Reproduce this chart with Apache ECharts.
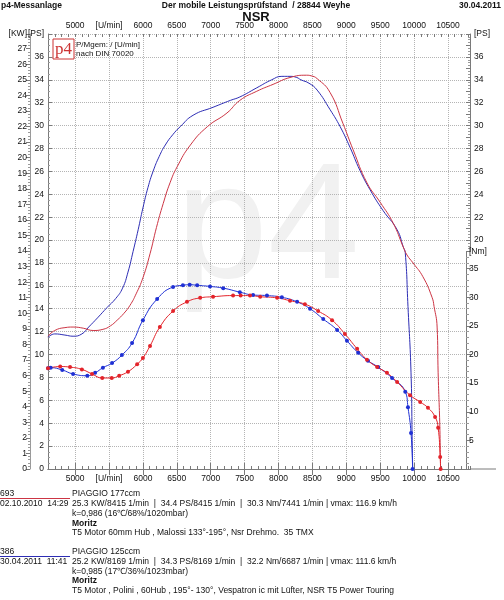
<!DOCTYPE html>
<html>
<head>
    <meta charset="UTF-8">
    <title>NSR Leistungsmessung</title>
    <script src="https://cdn.jsdelivr.net/npm/echarts@6.0.0/dist/echarts.min.js"></script>
    <style>
        html, body {margin: 0; padding: 0; background: #fff;}
        #chart {width: 504px; height: 600px;}
    </style>
</head>
<body>
<div id="chart"></div>
<script>
    // Drehzahl-Achse
    var rpmMin = 4600;
    var rpmMax = 10825;
    var rpmTicks = [5000, 5500, 6000, 6500, 7000, 7500, 8000, 8500, 9000, 9500, 10000, 10500];

    // Messung 386 (PIAGGIO 125ccm, blau) - Leistung in PS
    var rpm386P = [4600, 4700, 4850, 4970, 5100, 5200, 5330, 5470, 5600, 5700, 5780, 5855, 5930, 6000, 6075, 6150, 6240, 6330, 6440, 6550, 6740, 7035, 7290, 7430, 7680, 7900, 8050, 8170, 8270, 8330, 8450, 8570, 8760, 8910, 9055, 9200, 9350, 9540, 9750, 9840, 9870, 9910, 9955, 9972, 9980];
    var ps386 = [11.5, 11.8, 11.7, 11.6, 11.8, 12.4, 13.2, 14.1, 14.9, 15.8, 17.2, 19.0, 20.9, 22.8, 24.6, 26.0, 27.3, 28.3, 29.2, 29.9, 30.9, 31.6, 32.2, 32.5, 33.3, 34.0, 34.3, 34.3, 34.2, 34.0, 33.7, 33.1, 31.4, 29.9, 28.1, 26.1, 24.4, 22.6, 20.9, 19.4, 18.9, 14.2, 8.4, 2.5, 0];

    // Messung 386 - Drehmoment in Nm
    var rpm386M = [4600, 4640, 4810, 4970, 5180, 5295, 5410, 5545, 5690, 5840, 6000, 6210, 6445, 6590, 6690, 6800, 6990, 7185, 7430, 7625, 7830, 8050, 8275, 8465, 8660, 8865, 9010, 9175, 9320, 9470, 9675, 9870, 9910, 9955, 9978];
    var nm386 = [17.6, 17.7, 17.3, 16.6, 16.3, 16.8, 17.7, 18.5, 19.9, 22.0, 26.0, 29.7, 31.8, 32.1, 32.2, 32.1, 31.9, 31.6, 30.9, 30.4, 30.3, 30.0, 29.2, 28.0, 26.2, 24.3, 22.4, 20.3, 18.9, 17.8, 15.9, 13.5, 10.8, 6.3, 0];

    // Messung 693 (PIAGGIO 177ccm, rot) - Leistung in PS
    var rpm693P = [4600, 4700, 4850, 4970, 5120, 5265, 5410, 5520, 5620, 5720, 5810, 5900, 6000, 6105, 6200, 6300, 6400, 6505, 6700, 6950, 7240, 7430, 7680, 7920, 8170, 8415, 8480, 8570, 8760, 8950, 9100, 9305, 9500, 9690, 9840, 9895, 9985, 10130, 10265, 10295, 10340, 10355, 10380, 10390];
    var ps693 = [11.6, 12.1, 12.35, 12.4, 12.3, 12.1, 12.2, 12.5, 13.0, 13.6, 14.3, 15.3, 16.7, 18.8, 21.1, 23.2, 25.0, 26.4, 28.3, 29.9, 31.1, 32.2, 33.0, 33.6, 34.2, 34.4, 34.35, 34.1, 32.9, 30.2, 27.9, 25.0, 23.3, 21.5, 19.4, 18.7, 18.0, 16.8, 15.0, 14.2, 12.4, 8.4, 3.7, 0];

    // Messung 693 - Drehmoment in Nm
    var rpm693M = [4600, 4780, 4925, 5100, 5250, 5400, 5540, 5650, 5780, 5915, 6000, 6105, 6250, 6445, 6650, 6845, 7035, 7330, 7441, 7580, 7730, 7980, 8170, 8390, 8585, 8790, 8980, 9160, 9305, 9455, 9600, 9750, 9940, 10090, 10205, 10310, 10355, 10385, 10392];
    var nm693 = [17.6, 17.9, 17.8, 17.4, 16.6, 15.9, 15.9, 16.3, 17.0, 18.3, 19.4, 21.5, 24.8, 27.6, 29.2, 29.9, 30.1, 30.3, 30.3, 30.3, 30.1, 29.9, 29.4, 28.8, 27.6, 26.0, 23.6, 21.0, 19.1, 17.8, 16.8, 15.2, 12.9, 11.7, 10.7, 9.1, 7.2, 2.1, 0];

    // Achsbereiche
    var psMax = 38;
    var kwMax = 38 / 1.36;
    var nmMax = 38;

    function pairs(xs, ys) {
        var out = [];
        for (var i = 0; i < xs.length; i++) out.push([xs[i], ys[i]]);
        return out;
    }

    var FONT = 'Liberation Sans, Arial, sans-serif';
    var gridLine = {show: true, lineStyle: {color: '#b4b4b4', type: 'dotted', width: 1}};
    var axisCol = '#7a7a7a';

    var chart = echarts.init(document.getElementById('chart'));

    function rpmLabel(v) {
        return v === 5500 ? '[U/min]' : String(v);
    }

    // Textzeile unten / oben
    function txt(s, x, y, opts) {
        opts = opts || {};
        return {
            type: 'text', z: 10,
            style: {
                text: s, x: x, y: y, fill: '#111',
                font: (opts.bold ? 'bold ' : '') + (opts.size || 8.5) + 'px ' + FONT,
                align: opts.align || 'left', textAlign: opts.align || 'left',
                verticalAlign: 'middle', textVerticalAlign: 'middle'
            }
        };
    }

    var G = {left: 48, right: 34, top: 34, bottom: 131};

    var option = {
        backgroundColor: '#fff',
        animation: false,
        grid: [
            {left: G.left, right: G.right, top: G.top, bottom: G.bottom},         // Hauptdiagramm
            {left: G.left, right: G.right, top: 251.5, bottom: G.bottom},        // untere Hälfte Nm
            {left: G.left, right: G.right, top: G.top, height: 217.5}            // obere Hälfte PS rechts
        ],
        xAxis: [
            {
                type: 'value', gridIndex: 0, position: 'bottom', min: rpmMin, max: rpmMax,
                axisLine: {show: true, lineStyle: {color: axisCol}},
                axisTick: {show: true, inside: true, length: 6, customValues: rpmTicks, lineStyle: {color: axisCol}},
                axisLabel: {customValues: rpmTicks, formatter: rpmLabel, color: '#111', fontSize: 8.5, fontFamily: FONT, margin: 5},
                splitLine: gridLine
            },
            {
                type: 'value', gridIndex: 0, position: 'top', min: rpmMin, max: rpmMax,
                axisLine: {show: true, lineStyle: {color: axisCol}},
                axisTick: {show: true, inside: true, length: 6, customValues: rpmTicks, lineStyle: {color: axisCol}},
                axisLabel: {customValues: rpmTicks, formatter: rpmLabel, color: '#111', fontSize: 8.5, fontFamily: FONT, margin: 4},
                splitLine: {show: false}
            },
            // Feinteilung 100 U/min
            {
                type: 'value', gridIndex: 0, position: 'bottom', min: rpmMin, max: rpmMax, interval: 100,
                axisLine: {show: false}, axisLabel: {show: false}, splitLine: {show: false},
                axisTick: {show: true, inside: true, length: 3, lineStyle: {color: axisCol}}
            },
            {
                type: 'value', gridIndex: 0, position: 'top', min: rpmMin, max: rpmMax, interval: 100,
                axisLine: {show: false}, axisLabel: {show: false}, splitLine: {show: false},
                axisTick: {show: true, inside: true, length: 3, lineStyle: {color: axisCol}}
            },
            {type: 'value', gridIndex: 1, min: rpmMin, max: rpmMax, show: false},
            {type: 'value', gridIndex: 2, min: rpmMin, max: rpmMax, show: false}
        ],
        yAxis: [
            {
                // PS links
                type: 'value', gridIndex: 0, position: 'left', min: 0, max: psMax, interval: 2,
                axisLine: {show: true, lineStyle: {color: axisCol}},
                axisTick: {show: true, inside: true, length: 4, lineStyle: {color: axisCol}},
                minorTick: {show: true, splitNumber: 4, length: 2, lineStyle: {color: '#9a9a9a'}},
                axisLabel: {
                    formatter: function (v) { return v === psMax ? '[PS]' : String(v); },
                    color: '#111', fontSize: 8.5, fontFamily: FONT, margin: 4
                },
                splitLine: gridLine
            },
            {
                // KW links aussen
                type: 'value', gridIndex: 0, position: 'left', offset: 18, min: 0, max: kwMax, interval: 1,
                axisLine: {show: true, lineStyle: {color: '#9a9a9a'}},
                axisTick: {show: true, length: 4, lineStyle: {color: axisCol}},
                minorTick: {show: true, splitNumber: 5, length: 2, lineStyle: {color: '#9a9a9a'}},
                axisLabel: {
                    formatter: function (v) { return v > 27.5 ? '[KW]' : String(v); },
                    color: '#111', fontSize: 8.5, fontFamily: FONT, margin: 3
                },
                splitLine: {show: false}
            },
            {
                // Nm rechts, untere Hälfte
                type: 'value', gridIndex: 1, position: 'right', offset: -4, min: 0, max: nmMax, interval: 5,
                axisLine: {show: true, lineStyle: {color: axisCol}},
                axisTick: {show: true, length: 5, lineStyle: {color: axisCol}},
                minorTick: {show: true, splitNumber: 5, length: 3, lineStyle: {color: '#9a9a9a'}},
                axisLabel: {
                    formatter: function (v) { return v === 0 ? '' : (v === nmMax ? '[Nm]' : String(v)); },
                    color: '#111', fontSize: 8.5, fontFamily: FONT, margin: 3
                },
                splitLine: {show: false}
            },
            {
                // PS rechts, obere Hälfte
                type: 'value', gridIndex: 2, position: 'right', min: 19, max: psMax, interval: 1,
                axisLine: {show: true, lineStyle: {color: axisCol}},
                axisTick: {show: true, inside: true, length: 4, lineStyle: {color: axisCol}},
                minorTick: {show: true, splitNumber: 4, length: 2, lineStyle: {color: '#9a9a9a'}},
                axisLabel: {
                    formatter: function (v) {
                        if (v === psMax) return '[PS]';
                        return (v % 2 === 0) ? String(v) : '';
                    },
                    color: '#111', fontSize: 8.5, fontFamily: FONT, margin: 4
                },
                splitLine: {show: false}
            }
        ],
        series: [
            {
                name: '386 PS', type: 'line', xAxisIndex: 0, yAxisIndex: 0,
                data: pairs(rpm386P, ps386), showSymbol: false, smooth: 0.5,
                lineStyle: {color: '#2d2db4', width: 1}, z: 3
            },
            {
                name: '693 PS', type: 'line', xAxisIndex: 0, yAxisIndex: 0,
                data: pairs(rpm693P, ps693), showSymbol: false, smooth: 0.5,
                lineStyle: {color: '#cc3544', width: 1}, z: 3
            },
            {
                name: '386 Nm', type: 'line', xAxisIndex: 4, yAxisIndex: 2,
                data: pairs(rpm386M, nm386), symbol: 'circle', symbolSize: 4, smooth: 0.5,
                itemStyle: {color: '#1f30d4'}, lineStyle: {color: '#1f30d4', width: 1}, z: 4
            },
            {
                name: '693 Nm', type: 'line', xAxisIndex: 4, yAxisIndex: 2,
                data: pairs(rpm693M, nm693), symbol: 'circle', symbolSize: 4, smooth: 0.5,
                itemStyle: {color: '#e3232a'}, lineStyle: {color: '#e3232a', width: 1}, z: 4
            }
        ],
        graphic: [
            // Wasserzeichen
            {type: 'text', z: -10, silent: true, style: {text: 'p4', x: 176, y: 150, fill: '#f1f1f1', font: '165px ' + FONT}},
            // Kopfzeile
            txt('p4-Messanlage', 1, 6, {bold: true}),
            txt('Der mobile Leistungsprüfstand  / 28844 Weyhe', 256, 6, {bold: true, align: 'center'}),
            txt('30.04.2011', 501, 6, {bold: true, align: 'right'}),
            txt('NSR', 256, 17, {bold: true, size: 13, align: 'center'}),
            // Logo
            {type: 'rect', z: 10, shape: {x: 53, y: 39, width: 21, height: 20}, style: {fill: '#fff', stroke: '#cc3333', lineWidth: 1}},
            {type: 'text', z: 11, style: {text: 'p4', x: 63.5, y: 50, fill: '#cc3333', font: '17px Liberation Serif, serif', align: 'center', textAlign: 'center', verticalAlign: 'middle', textVerticalAlign: 'middle'}},
            txt('P/Mgem: / [U/min]', 76, 45, {size: 8}),
            txt('nach DIN 70020', 76, 54, {size: 8}),
            // Verlängerung der Grundlinie
            {type: 'line', shape: {x1: 470, y1: 469, x2: 496, y2: 469}, style: {stroke: axisCol, lineWidth: 1}},
            // Messung 693
            txt('693', 0, 494),
            {type: 'line', shape: {x1: 0, y1: 498.5, x2: 70, y2: 498.5}, style: {stroke: '#cc3544', lineWidth: 1}},
            txt('PIAGGIO 177ccm', 72, 494),
            txt('02.10.2010  14:29', 0, 504),
            txt('25.3 KW/8415 1/min  |  34.4 PS/8415 1/min  |  30.3 Nm/7441 1/min | vmax: 116.9 km/h', 72, 504),
            txt('k=0,986 (16℃/68%/1020mbar)', 72, 514),
            txt('Moritz', 72, 524, {bold: true}),
            txt('T5 Motor 60mm Hub , Malossi 133°-195°, Nsr Drehmo.  35 TMX', 72, 533),
            // Messung 386
            txt('386', 0, 552),
            {type: 'line', shape: {x1: 0, y1: 556.5, x2: 70, y2: 556.5}, style: {stroke: '#2d2db4', lineWidth: 1}},
            txt('PIAGGIO 125ccm', 72, 552),
            txt('30.04.2011  11:41', 0, 562),
            txt('25.2 KW/8169 1/min  |  34.3 PS/8169 1/min  |  32.2 Nm/6687 1/min | vmax: 111.6 km/h', 72, 562),
            txt('k=0,985 (17℃/36%/1023mbar)', 72, 572),
            txt('Moritz', 72, 581, {bold: true}),
            txt('T5 Motor , Polini , 60Hub , 195°- 130°, Vespatron ic mit Lüfter, NSR T5 Power Touring', 72, 591)
        ]
    };

    chart.setOption(option);
</script>
</body>
</html>
